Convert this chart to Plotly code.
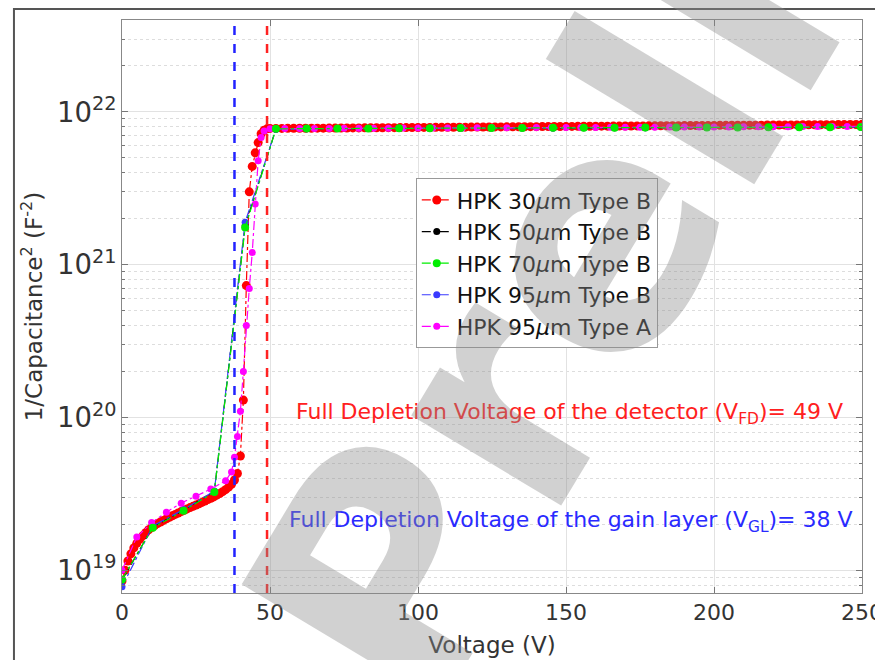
import plotly.graph_objects as go

# ---------------- data ----------------
V_GL = 38
V_FD = 49

red_v = list(range(0, 51)) + list(range(52, 251, 2))
red_c = ([8.5e18, 1.0e19, 1.15e19, 1.28e19, 1.4e19, 1.5e19, 1.6e19, 1.68e19, 1.76e19, 1.84e19,
          1.9e19, 1.96e19, 2.02e19, 2.07e19, 2.12e19, 2.17e19, 2.22e19, 2.27e19, 2.32e19, 2.37e19,
          2.42e19, 2.47e19, 2.52e19, 2.57e19, 2.62e19, 2.67e19, 2.72e19, 2.78e19, 2.84e19, 2.9e19,
          2.96e19, 3.02e19, 3.1e19, 3.18e19, 3.27e19, 3.37e19, 3.5e19, 3.65e19, 3.9e19, 4.3e19,
          5.6e19, 1.3e20, 7.3e20, 3.0e21, 4.4e21, 5.4e21, 6.3e21, 7.2e21, 7.6e21, 7.75e21, 7.8e21]
         + [x * 1e21 for x in [
             7.80, 7.80, 7.81, 7.81, 7.82, 7.82, 7.82, 7.83, 7.83, 7.84,
             7.84, 7.85, 7.85, 7.86, 7.86, 7.87, 7.87, 7.88, 7.88, 7.89,
             7.89, 7.90, 7.90, 7.91, 7.91, 7.92, 7.92, 7.93, 7.93, 7.94,
             7.94, 7.95, 7.95, 7.96, 7.96, 7.97, 7.97, 7.98, 7.98, 7.99,
             7.99, 8.00, 8.00, 8.01, 8.01, 8.02, 8.02, 8.03, 8.03, 8.04,
             8.04, 8.05, 8.05, 8.06, 8.06, 8.07, 8.07, 8.08, 8.08, 8.09,
             8.09, 8.10, 8.10, 8.11, 8.11, 8.12, 8.12, 8.13, 8.13, 8.14,
             8.14, 8.15, 8.15, 8.16, 8.16, 8.17, 8.17, 8.18, 8.18, 8.19,
             8.19, 8.20, 8.20, 8.21, 8.21, 8.22, 8.22, 8.23, 8.23, 8.24,
             8.24, 8.25, 8.25, 8.26, 8.26, 8.27, 8.27, 8.28, 8.28, 8.30]])

grid_v = [0, 10.4, 20.8, 31.2, 41.6, 52, 62.4, 72.8, 83.2, 93.6, 104, 114.4, 124.8,
          135.2, 145.6, 156, 166.4, 176.8, 187.2, 197.6, 208, 218.4, 228.8, 239.2, 249.6]

black_c = [8.6e18, 1.92e19, 2.47e19, 3.28e19, 1.8e21, 7.74e21, 7.77e21, 7.79e21, 7.8e21,
           7.81e21, 7.82e21, 7.83e21, 7.84e21, 7.85e21, 7.86e21, 7.87e21, 7.88e21, 7.89e21,
           7.9e21, 7.91e21, 7.92e21, 7.93e21, 7.94e21, 7.95e21, 7.96e21]

green_c = [8.7e18, 1.9e19, 2.45e19, 3.25e19, 1.75e21, 7.75e21, 7.78e21, 7.8e21, 7.8e21,
           7.82e21, 7.83e21, 7.84e21, 7.85e21, 7.86e21, 7.87e21, 7.88e21, 7.89e21, 7.9e21,
           7.9e21, 7.91e21, 7.92e21, 7.93e21, 7.94e21, 7.95e21, 7.96e21]

blue_c = [7.8e18, 1.95e19, 2.5e19, 3.3e19, 1.9e21, 7.7e21, 7.76e21, 7.79e21, 7.8e21,
          7.81e21, 7.82e21, 7.83e21, 7.84e21, 7.85e21, 7.86e21, 7.87e21, 7.88e21, 7.89e21,
          7.9e21, 7.91e21, 7.92e21, 7.93e21, 7.94e21, 7.95e21, 7.97e21]

mag_v = ([0, 5, 10, 15, 20, 25, 30, 35, 37, 38, 39, 40, 41, 42, 43, 44, 45, 46, 47, 48, 50]
         + list(range(55, 251, 5)))
mag_c = ([1.0e19, 1.65e19, 2.05e19, 2.4e19, 2.75e19, 3.05e19, 3.4e19, 3.85e19, 4.4e19, 5.5e19,
          7.5e19, 1.1e20, 2.0e20, 4.0e20, 7.0e20, 1.2e21, 2.5e21, 4.8e21, 6.8e21, 7.5e21, 7.75e21]
         + [x * 1e21 for x in [
             7.78, 7.79, 7.80, 7.80, 7.81, 7.82, 7.82, 7.83, 7.84, 7.84,
             7.85, 7.86, 7.86, 7.87, 7.88, 7.88, 7.89, 7.90, 7.90, 7.91,
             7.92, 7.92, 7.93, 7.94, 7.94, 7.95, 7.96, 7.96, 7.97, 7.98,
             7.98, 7.99, 8.00, 8.00, 8.01, 8.02, 8.02, 8.03, 8.04, 8.05]])

labels = ["HPK 30<i>μ</i>m Type B", "HPK 50<i>μ</i>m Type B", "HPK 70<i>μ</i>m Type B",
          "HPK 95<i>μ</i>m Type B", "HPK 95<i>μ</i>m Type A"]

FONT = "DejaVu Sans"

fig = go.Figure()

def add(x, y, name, color, size, rank):
    fig.add_trace(go.Scatter(
        x=x, y=y, name=name, mode="lines+markers",
        line=dict(color=color, width=1.2, dash="dashdot"),
        marker=dict(color=color, size=size, line=dict(width=0)),
        legendrank=rank))

add(red_v, red_c, labels[0], "#ff0000", 9, 1)
add(grid_v, black_c, labels[1], "#000000", 7, 2)
add(grid_v, blue_c, labels[3], "#3a3aff", 7, 4)
add(mag_v, mag_c, labels[4], "#ff00ff", 7, 5)
add(grid_v, green_c, labels[2], "#00ee00", 8, 3)

# vertical depletion lines
fig.add_shape(type="line", xref="x", yref="paper", x0=V_GL, x1=V_GL, y0=0, y1=1,
              line=dict(color="#2222ff", width=2.5, dash="dash"))
fig.add_shape(type="line", xref="x", yref="paper", x0=V_FD, x1=V_FD, y0=0, y1=1,
              line=dict(color="#ff2222", width=2.5, dash="dash"))

# outer frame
fig.add_shape(type="rect", xref="paper", yref="paper", x0=-0.146, x1=1.05, y0=-0.25, y1=1.019,
              line=dict(color="#555555", width=2), layer="above")

fig.add_annotation(xref="paper", yref="paper", x=0.977, y=0.314, xanchor="right", yanchor="middle",
                   text="Full Depletion Voltage of the detector (V<sub>FD</sub>)= %d V" % V_FD,
                   showarrow=False, font=dict(family=FONT, size=22, color="#ff2020"))
fig.add_annotation(xref="paper", yref="paper", x=0.99, y=0.124, xanchor="right", yanchor="middle",
                   text="Full Depletion Voltage of the gain layer (V<sub>GL</sub>)= %d V" % V_GL,
                   showarrow=False, font=dict(family=FONT, size=22, color="#2a2aff"))

# watermark
fig.add_annotation(xref="paper", yref="paper", x=1.008, y=1.418, xanchor="center", yanchor="middle",
                   text="<b>Preliminary</b>", textangle=-59, showarrow=False,
                   font=dict(family=FONT, size=320, color="rgba(140,140,140,0.40)"))

fig.update_layout(
    width=875, height=660,
    margin=dict(l=122, r=13, t=20, b=67),
    paper_bgcolor="white", plot_bgcolor="white",
    font=dict(family=FONT, color="#333333"),
    showlegend=True,
    legend=dict(x=0.397, y=0.724, xanchor="left", yanchor="top",
                bgcolor="white", bordercolor="#999999", borderwidth=1,
                font=dict(family=FONT, size=22, color="#111111")),
)

fig.update_xaxes(
    range=[0, 250], dtick=50, tick0=0, automargin=False,
    ticks="inside", ticklen=6, tickcolor="#777777",
    showline=True, linecolor="#888888", linewidth=1, mirror="ticks",
    showgrid=True, gridcolor="#e2e2e2", gridwidth=1, zeroline=False,
    ticklabeloverflow="allow",
    tickfont=dict(family=FONT, size=22, color="#333333"),
    title=dict(text="Voltage (V)", font=dict(family=FONT, size=23, color="#333333"), standoff=12),
)
fig.update_yaxes(
    type="log", range=[18.851, 22.602], dtick=1, automargin=False,
    exponentformat="power",
    ticks="inside", ticklen=6, tickcolor="#777777",
    showline=True, linecolor="#888888", linewidth=1, mirror="ticks",
    showgrid=True, gridcolor="#e2e2e2", gridwidth=1, zeroline=False,
    minor=dict(dtick="D1", ticks="inside", ticklen=3, tickcolor="#777777",
               showgrid=True, gridcolor="#dddddd", griddash="dot", gridwidth=1),
    tickfont=dict(family=FONT, size=22, color="#333333"),
    title=dict(text="1/Capacitance<sup>2</sup> (F<sup>-2</sup>)",
               font=dict(family=FONT, size=23, color="#333333"), standoff=8),
)

fig.write_html("out.html")
